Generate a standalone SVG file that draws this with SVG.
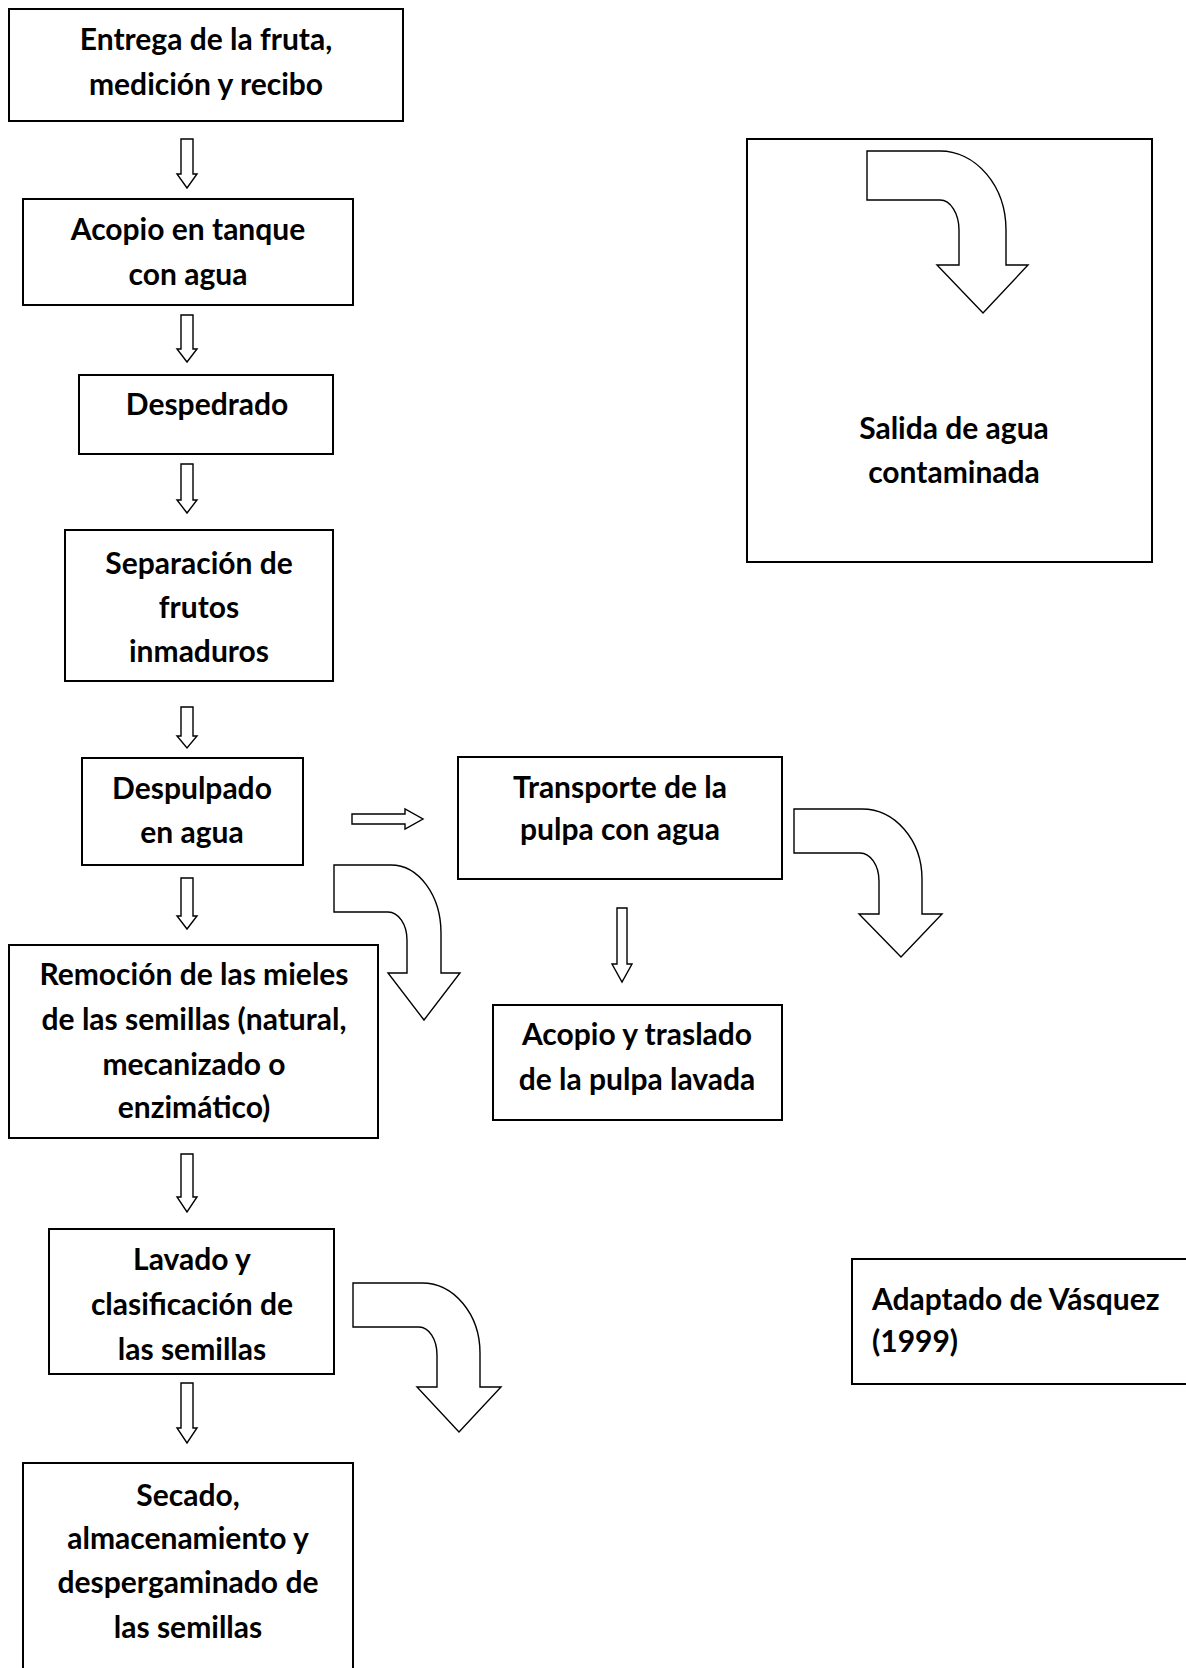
<svg xmlns="http://www.w3.org/2000/svg" width="1186" height="1668" viewBox="0 0 1186 1668">
<style>
.box{fill:#fff;stroke:#000;stroke-width:2}
.t{font-family:Lato,"Open Sans","Liberation Sans",sans-serif;font-weight:700;font-size:30px;fill:#000;text-anchor:middle}
.tl{text-anchor:start}
.arr{fill:#fff;stroke:#000;stroke-width:1.4;stroke-linejoin:miter}
</style>
<rect width="1186" height="1668" fill="#fff"/>
<g id="n1">
<rect class="box" x="9" y="9" width="394" height="112"/>
<text class="t" x="206" y="50">Entrega de la fruta,</text>
<text class="t" x="206" y="95">medición y recibo</text>
</g>
<g id="n2">
<rect class="box" x="23" y="199" width="330" height="106"/>
<text class="t" x="188" y="240">Acopio en tanque</text>
<text class="t" x="188" y="285">con agua</text>
</g>
<g id="n3">
<rect class="box" x="79" y="375" width="254" height="79"/>
<text class="t" x="207" y="415">Despedrado</text>
</g>
<g id="n4">
<rect class="box" x="65" y="530" width="268" height="151"/>
<text class="t" x="199" y="574">Separación de</text>
<text class="t" x="199" y="618">frutos</text>
<text class="t" x="199" y="662">inmaduros</text>
</g>
<g id="n5">
<rect class="box" x="82" y="758" width="221" height="107"/>
<text class="t" x="192" y="799">Despulpado</text>
<text class="t" x="192" y="843">en agua</text>
</g>
<g id="n6">
<rect class="box" x="9" y="945" width="369" height="193"/>
<text class="t" x="194" y="985">Remoción de las mieles</text>
<text class="t" x="194" y="1030">de las semillas (natural,</text>
<text class="t" x="194" y="1075">mecanizado o</text>
<text class="t" x="194" y="1118">enzimático)</text>
</g>
<g id="n7">
<rect class="box" x="49" y="1229" width="285" height="145"/>
<text class="t" x="192" y="1270">Lavado y</text>
<text class="t" x="192" y="1315">clasificación de</text>
<text class="t" x="192" y="1360">las semillas</text>
</g>
<g id="n8">
<rect class="box" x="23" y="1463" width="330" height="220"/>
<text class="t" x="188" y="1506">Secado,</text>
<text class="t" x="188" y="1549">almacenamiento y</text>
<text class="t" x="188" y="1593">despergaminado de</text>
<text class="t" x="188" y="1638">las semillas</text>
</g>
<g id="n9">
<rect class="box" x="747" y="139" width="405" height="423"/>
<text class="t" x="954" y="439">Salida de agua</text>
<text class="t" x="954" y="483">contaminada</text>
</g>
<g id="n10">
<rect class="box" x="458" y="757" width="324" height="122"/>
<text class="t" x="620" y="798">Transporte de la</text>
<text class="t" x="620" y="840">pulpa con agua</text>
</g>
<g id="n11">
<rect class="box" x="493" y="1005" width="289" height="115"/>
<text class="t" x="637" y="1045">Acopio y traslado</text>
<text class="t" x="637" y="1090">de la pulpa lavada</text>
</g>
<g id="n12">
<rect class="box" x="852" y="1259" width="350" height="125"/>
<text class="t tl" x="872" y="1310">Adaptado de Vásquez</text>
<text class="t tl" x="872" y="1352">(1999)</text>
</g>
<g id="connectors">
<path class="arr" d="M181,139 H193 V174 H197 L187,188 L177,174 H181 Z"/>
<path class="arr" d="M181,315 H193 V349 H197 L187,362 L177,349 H181 Z"/>
<path class="arr" d="M181,464 H193 V500 H197 L187,513 L177,500 H181 Z"/>
<path class="arr" d="M181,707 H193 V736 H197 L187,748 L177,736 H181 Z"/>
<path class="arr" d="M181,878 H193 V916 H197 L187,929 L177,916 H181 Z"/>
<path class="arr" d="M181,1154 H193 V1197 H197 L187,1212 L177,1197 H181 Z"/>
<path class="arr" d="M181,1383 H193 V1428 H197 L187,1443 L177,1428 H181 Z"/>
<path class="arr" d="M352,814 H405 V809 L423,819 L405,829 V824 H352 Z"/>
<path class="arr" d="M617,908 H627 V964 H632 L622,982 L612,964 H617 Z"/>
</g>
<g id="outflows">
<path id="outflow-salida" class="arr" d="M867,151 H940 A66,79 0 0 1 1006,230 V265 H1028 L983,313 L937,265 H959 V230 A19,30 0 0 0 940,200 H867 Z"/>
<path id="outflow-despulpado" class="arr" d="M334,865 H391 A50,68 0 0 1 441,933 V973 H460 L424,1020 L388,973 H407 V940 A19,28 0 0 0 388,912 H334 Z"/>
<path id="outflow-transporte" class="arr" d="M794,809 H862 A60,70 0 0 1 922,879 V914 H942 L901,957 L859,914 H879 V881 A19,28 0 0 0 860,853 H794 Z"/>
<path id="outflow-lavado" class="arr" d="M353,1283 H422 A58,70 0 0 1 480,1353 V1387 H501 L459,1432 L417,1387 H437 V1355 A18,28 0 0 0 419,1327 H353 Z"/>
</g>
</svg>
